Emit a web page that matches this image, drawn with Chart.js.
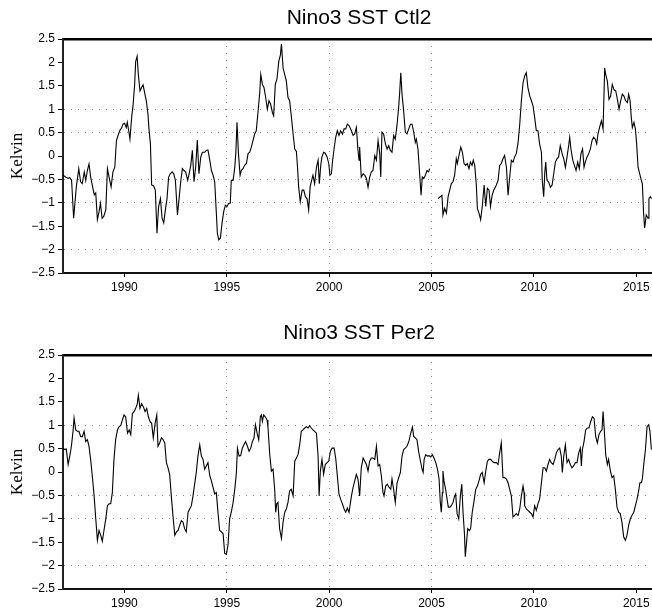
<!DOCTYPE html>
<html>
<head>
<meta charset="utf-8">
<title>Nino3 SST</title>
<script src="https://cdn.jsdelivr.net/npm/chart.js@4.4.1/dist/chart.umd.min.js"></script>
<style>
  html, body { margin: 0; padding: 0; background: #fff; overflow: hidden; }
  canvas { display: block; }
</style>
</head>
<body>
<canvas id="ctl2" width="660" height="306"></canvas>
<canvas id="per2" width="660" height="306"></canvas>
<script>
// Nino3 SST anomaly [year, K], monthly-ish samples, gap in early 2005 for Ctl2
const ctl2Series = [
  [1987.00,-0.41],[1987.13,-0.45],[1987.25,-0.48],[1987.33,-0.46],[1987.42,-0.52],[1987.52,-1.33],[1987.65,-0.66],[1987.77,-0.27],[1987.86,-0.55],[1987.94,-0.59],
  [1988.04,-0.34],[1988.11,-0.52],[1988.19,-0.31],[1988.27,-0.17],[1988.35,-0.45],[1988.43,-0.62],[1988.53,-0.83],[1988.60,-0.79],[1988.68,-1.36],[1988.76,-1.19],[1988.83,-1.01],[1988.91,-1.33],[1988.99,-1.29],
  [1989.09,-1.15],[1989.17,-0.27],[1989.25,-0.45],[1989.35,-0.66],[1989.44,-0.34],[1989.53,-0.24],[1989.61,0.33],[1989.69,0.44],[1989.77,0.54],[1989.87,0.61],[1989.93,0.68],
  [1990.01,0.70],[1990.09,0.61],[1990.14,0.72],[1990.21,0.54],[1990.27,0.36],[1990.36,0.86],[1990.42,1.07],[1990.50,1.53],[1990.55,2.02],[1990.62,2.13],[1990.68,1.74],[1990.76,1.39],[1990.83,1.46],[1990.91,1.52],[1990.99,1.35],
  [1991.07,1.18],[1991.15,0.89],[1991.20,0.58],[1991.27,0.26],[1991.33,-0.62],[1991.43,-0.64],[1991.51,-0.73],[1991.59,-1.65],[1991.67,-1.08],[1991.76,-0.91],[1991.84,-1.33],[1991.92,-1.43],
  [1992.00,-1.15],[1992.08,-0.91],[1992.16,-0.45],[1992.24,-0.38],[1992.33,-0.34],[1992.41,-0.38],[1992.49,-0.52],[1992.59,-1.26],[1992.67,-0.91],[1992.75,-0.55],[1992.83,-0.27],[1992.91,-0.31],[1992.99,-0.34],
  [1993.09,-0.52],[1993.16,-0.38],[1993.24,-0.20],[1993.32,0.12],[1993.40,-0.55],[1993.48,-0.24],[1993.56,0.34],[1993.64,-0.38],[1993.73,-0.02],[1993.81,0.08],[1993.92,0.08],
  [1994.00,0.12],[1994.08,0.13],[1994.17,-0.09],[1994.25,-0.31],[1994.33,-0.41],[1994.41,-0.55],[1994.49,-1.22],[1994.54,-1.65],[1994.61,-1.79],[1994.69,-1.75],[1994.77,-1.43],[1994.85,-1.19],[1994.93,-1.05],
  [1995.01,-1.08],[1995.09,-1.01],[1995.17,-1.01],[1995.22,-0.52],[1995.31,-0.52],[1995.39,-0.24],[1995.44,0.05],[1995.50,0.72],[1995.57,0.05],[1995.65,-0.41],[1995.71,-0.31],[1995.79,-0.27],[1995.87,-0.20],[1995.96,-0.16],
  [1996.04,0.05],[1996.12,0.08],[1996.20,0.19],[1996.28,0.33],[1996.36,0.47],[1996.44,0.54],[1996.53,0.96],[1996.61,1.35],[1996.66,1.74],[1996.74,1.53],[1996.82,1.46],[1996.90,1.25],[1996.98,1.00],
  [1997.06,1.18],[1997.14,1.11],[1997.23,0.93],[1997.29,0.86],[1997.37,1.53],[1997.45,1.64],[1997.54,2.02],[1997.62,2.16],[1997.67,2.39],[1997.75,1.88],[1997.83,1.74],[1997.91,1.60],[1997.99,1.25],
  [1998.07,1.18],[1998.15,0.86],[1998.24,0.47],[1998.32,0.15],[1998.40,0.10],[1998.45,-0.20],[1998.51,-0.66],[1998.59,-0.98],[1998.68,-0.73],[1998.76,-0.73],[1998.84,-0.87],[1998.92,-0.91],
  [1999.00,-1.15],[1999.07,-0.66],[1999.13,-0.55],[1999.21,-0.41],[1999.29,-0.59],[1999.38,-0.24],[1999.46,-0.09],[1999.52,-0.59],[1999.59,-0.20],[1999.65,-0.02],[1999.73,0.08],[1999.81,0.06],[1999.90,-0.02],[1999.98,-0.16],
  [2000.04,-0.41],[2000.11,-0.38],[2000.17,-0.09],[2000.24,0.15],[2000.32,0.40],[2000.40,0.54],[2000.48,0.44],[2000.56,0.54],[2000.65,0.47],[2000.73,0.58],[2000.81,0.58],[2000.89,0.68],[2000.97,0.65],
  [2001.09,0.54],[2001.17,0.44],[2001.25,0.47],[2001.33,0.61],[2001.41,0.12],[2001.46,-0.09],[2001.49,0.19],[2001.57,-0.45],[2001.66,-0.38],[2001.74,-0.41],[2001.82,-0.48],[2001.90,-0.67],[2001.98,-0.45],
  [2002.06,-0.34],[2002.14,-0.31],[2002.23,0.01],[2002.31,-0.09],[2002.39,0.33],[2002.47,0.05],[2002.52,-0.45],[2002.58,0.51],[2002.66,0.47],[2002.75,0.26],[2002.83,0.15],[2002.91,0.22],[2002.99,0.12],
  [2003.07,0.08],[2003.15,0.44],[2003.23,0.36],[2003.32,0.68],[2003.40,1.07],[2003.45,1.39],[2003.50,1.78],[2003.56,1.32],[2003.64,0.96],[2003.72,0.51],[2003.80,0.47],[2003.89,0.58],[2003.97,0.68],
  [2004.05,0.68],[2004.13,0.51],[2004.21,0.29],[2004.26,0.36],[2004.34,0.15],[2004.42,-0.38],[2004.49,-0.84],[2004.55,-0.45],[2004.62,-0.48],[2004.70,-0.41],[2004.78,-0.31],[2004.86,-0.34],[2004.91,-0.27],
  [2005.10,null],
  [2005.32,-0.91],[2005.43,-0.87],[2005.51,-0.84],[2005.56,-1.26],[2005.64,-1.12],[2005.73,-1.22],[2005.81,-0.87],[2005.89,-0.73],[2005.97,-0.59],
  [2006.05,-0.55],[2006.13,-0.41],[2006.21,-0.06],[2006.26,-0.16],[2006.34,0.01],[2006.43,0.19],[2006.51,0.08],[2006.59,-0.16],[2006.67,-0.20],[2006.75,-0.16],[2006.83,-0.27],[2006.90,-0.13],[2006.98,-0.20],
  [2007.04,-0.09],[2007.11,-0.20],[2007.19,-0.62],[2007.24,-1.12],[2007.32,-1.22],[2007.40,-1.36],[2007.48,-1.08],[2007.57,-0.62],[2007.65,-1.08],[2007.73,-0.69],[2007.81,-0.73],[2007.88,-1.08],[2007.96,-0.84],
  [2008.04,-0.73],[2008.17,-0.62],[2008.25,-0.52],[2008.33,-0.20],[2008.41,-0.16],[2008.49,-0.06],[2008.57,0.01],[2008.66,-0.24],[2008.74,-0.84],[2008.82,-0.45],[2008.90,-0.09],[2008.98,-0.13],
  [2009.06,-0.02],[2009.14,0.05],[2009.23,0.29],[2009.31,0.68],[2009.39,1.18],[2009.47,1.56],[2009.55,1.71],[2009.63,1.78],[2009.71,1.46],[2009.80,1.28],[2009.88,1.18],[2009.96,1.07],
  [2010.04,0.82],[2010.12,0.54],[2010.20,0.54],[2010.28,0.26],[2010.37,0.08],[2010.41,-0.52],[2010.48,-0.87],[2010.53,-0.38],[2010.58,-0.13],[2010.64,-0.52],[2010.72,-0.55],[2010.81,-0.67],[2010.89,-0.62],[2010.97,-0.38],
  [2011.05,-0.13],[2011.13,-0.06],[2011.21,-0.02],[2011.29,0.22],[2011.38,0.05],[2011.46,-0.06],[2011.54,-0.24],[2011.62,-0.02],[2011.70,0.22],[2011.75,0.40],[2011.81,0.15],[2011.90,-0.09],[2011.98,-0.20],
  [2012.06,-0.31],[2012.14,-0.13],[2012.22,-0.27],[2012.30,0.05],[2012.38,0.15],[2012.45,-0.24],[2012.51,-0.13],[2012.60,-0.02],[2012.68,0.05],[2012.76,0.15],[2012.84,0.33],[2012.92,0.40],
  [2013.00,0.36],[2013.07,0.26],[2013.13,0.47],[2013.21,0.61],[2013.30,0.75],[2013.38,0.58],[2013.46,1.88],[2013.51,1.74],[2013.59,1.60],[2013.67,1.21],[2013.75,1.28],[2013.83,1.53],[2013.91,1.42],
  [2014.00,1.39],[2014.08,1.21],[2014.16,1.00],[2014.24,1.18],[2014.32,1.32],[2014.40,1.28],[2014.48,1.18],[2014.57,1.14],[2014.63,1.32],[2014.70,1.18],[2014.76,0.82],[2014.81,0.61],[2014.89,0.72],[2014.96,0.58],
  [2015.02,0.26],[2015.09,-0.24],[2015.17,-0.38],[2015.25,-0.52],[2015.30,-0.59],[2015.36,-1.22],[2015.41,-1.54],[2015.49,-1.26],[2015.58,-1.33],[2015.62,-0.91],[2015.69,-0.87],[2015.75,-0.91]
];

const per2Series = [
  [1987.00,0.51],[1987.08,0.48],[1987.16,0.49],[1987.25,0.16],[1987.33,0.34],[1987.41,0.55],[1987.49,0.87],[1987.54,1.15],[1987.62,0.90],[1987.70,0.87],[1987.78,0.87],[1987.86,0.76],[1987.94,0.75],
  [1988.03,0.87],[1988.11,0.65],[1988.19,0.69],[1988.27,0.55],[1988.35,0.27],[1988.43,-0.08],[1988.52,-0.51],[1988.60,-1.00],[1988.68,-1.46],[1988.76,-1.25],[1988.84,-1.35],[1988.92,-1.48],
  [1989.00,-1.25],[1989.09,-1.00],[1989.17,-0.72],[1989.25,-0.68],[1989.33,-0.68],[1989.41,-0.44],[1989.49,0.27],[1989.57,0.69],[1989.66,0.90],[1989.74,0.97],[1989.82,0.99],[1989.90,1.11],[1989.98,1.22],
  [1990.06,1.18],[1990.15,0.83],[1990.23,0.90],[1990.31,0.80],[1990.39,1.25],[1990.47,1.29],[1990.55,1.36],[1990.63,1.46],[1990.68,1.64],[1990.76,1.36],[1990.84,1.46],[1990.93,1.39],
  [1991.01,1.29],[1991.09,1.36],[1991.17,1.18],[1991.25,1.08],[1991.33,1.04],[1991.41,0.73],[1991.50,1.04],[1991.58,1.22],[1991.64,0.55],[1991.72,0.62],[1991.81,0.73],[1991.89,0.69],[1991.97,0.62],
  [1992.05,0.20],[1992.13,0.09],[1992.21,-0.05],[1992.29,-0.51],[1992.37,-0.93],[1992.46,-1.35],[1992.54,-1.28],[1992.62,-1.25],[1992.70,-1.14],[1992.78,-1.04],[1992.86,-1.07],[1992.94,-1.21],
  [1993.02,-1.28],[1993.11,-0.86],[1993.19,-0.79],[1993.27,-0.72],[1993.35,-0.51],[1993.43,-0.26],[1993.51,-0.01],[1993.59,0.34],[1993.68,0.58],[1993.76,0.34],[1993.84,0.27],[1993.92,0.06],
  [1994.00,0.13],[1994.08,0.20],[1994.17,-0.08],[1994.25,-0.19],[1994.33,-0.33],[1994.41,-0.47],[1994.49,-0.44],[1994.57,-0.86],[1994.65,-1.25],[1994.74,-1.28],[1994.82,-1.32],[1994.90,-1.74],[1994.98,-1.76],
  [1995.06,-1.56],[1995.14,-1.00],[1995.22,-0.86],[1995.31,-0.65],[1995.39,-0.37],[1995.47,-0.01],[1995.52,0.51],[1995.60,0.34],[1995.68,0.35],[1995.76,0.51],[1995.84,0.58],[1995.92,0.65],
  [1996.01,0.55],[1996.09,0.44],[1996.17,0.51],[1996.25,0.65],[1996.33,0.73],[1996.40,1.01],[1996.48,0.83],[1996.56,0.69],[1996.64,1.18],[1996.69,1.22],[1996.74,1.08],[1996.80,1.22],[1996.88,1.18],[1996.97,1.11],
  [1997.01,0.97],[1997.10,0.37],[1997.18,0.02],[1997.26,0.06],[1997.34,-0.37],[1997.39,-0.86],[1997.44,-0.68],[1997.50,-0.65],[1997.58,-1.21],[1997.67,-1.42],[1997.75,-1.07],[1997.83,-0.86],[1997.91,-0.79],[1997.99,-0.65],
  [1998.07,-0.40],[1998.15,-0.37],[1998.24,-0.51],[1998.32,0.23],[1998.40,0.30],[1998.48,0.37],[1998.56,0.58],[1998.64,0.87],[1998.72,0.90],[1998.81,0.94],[1998.89,0.97],[1998.97,0.94],
  [1999.05,0.99],[1999.13,0.94],[1999.21,0.90],[1999.29,0.87],[1999.38,0.83],[1999.46,0.34],[1999.51,-0.51],[1999.57,0.02],[1999.65,0.27],[1999.73,-0.05],[1999.81,0.16],[1999.90,0.20],[1999.98,0.23],
  [2000.06,0.44],[2000.14,0.51],[2000.24,0.51],[2000.32,0.30],[2000.40,-0.08],[2000.48,-0.47],[2000.56,-0.58],[2000.65,-0.68],[2000.73,-0.79],[2000.81,-0.86],[2000.89,-0.77],[2000.97,-0.86],
  [2001.09,-0.51],[2001.17,-0.33],[2001.25,-0.19],[2001.33,-0.05],[2001.41,-0.15],[2001.49,-0.51],[2001.57,0.09],[2001.66,0.30],[2001.74,0.23],[2001.82,0.16],[2001.90,0.02],[2001.98,0.23],
  [2002.06,0.30],[2002.14,0.30],[2002.23,0.27],[2002.31,0.55],[2002.39,0.13],[2002.47,0.16],[2002.55,-0.08],[2002.63,-0.44],[2002.68,-0.51],[2002.76,-0.30],[2002.84,-0.26],[2002.93,-0.33],
  [2003.01,-0.37],[2003.07,-0.15],[2003.15,-0.37],[2003.23,-0.65],[2003.32,-0.23],[2003.40,-0.12],[2003.48,-0.01],[2003.56,0.34],[2003.64,0.48],[2003.72,0.51],[2003.80,0.55],[2003.89,0.65],[2003.97,0.80],
  [2004.03,0.90],[2004.07,0.96],[2004.13,0.76],[2004.21,0.73],[2004.29,0.69],[2004.37,0.44],[2004.46,0.23],[2004.54,0.06],[2004.59,-0.01],[2004.64,0.27],[2004.72,0.37],[2004.80,0.34],[2004.88,0.35],[2004.96,0.32],
  [2005.04,0.37],[2005.12,0.30],[2005.21,0.20],[2005.29,0.06],[2005.37,-0.15],[2005.43,-0.65],[2005.48,-0.86],[2005.53,-0.44],[2005.56,0.02],[2005.61,-0.19],[2005.69,-0.37],[2005.76,-0.58],[2005.82,-0.75],[2005.90,-0.75],[2005.97,-0.72],
  [2006.05,-0.65],[2006.13,-0.51],[2006.18,-0.47],[2006.25,-0.89],[2006.33,-1.00],[2006.41,-0.51],[2006.48,-0.26],[2006.54,-0.86],[2006.61,-1.32],[2006.65,-1.81],[2006.70,-1.56],[2006.77,-1.21],[2006.85,-1.25],[2006.91,-1.21],[2006.99,-0.86],
  [2007.08,-0.61],[2007.16,-0.37],[2007.24,-0.30],[2007.32,-0.19],[2007.40,-0.05],[2007.48,-0.01],[2007.57,-0.23],[2007.65,0.02],[2007.73,0.23],[2007.81,0.27],[2007.89,0.27],[2007.97,0.23],
  [2008.05,0.20],[2008.17,0.20],[2008.25,0.16],[2008.33,0.41],[2008.41,0.62],[2008.49,-0.12],[2008.57,-0.12],[2008.66,-0.15],[2008.74,-0.23],[2008.82,-0.37],[2008.90,-0.51],[2008.98,-0.96],
  [2009.06,-0.93],[2009.14,-0.89],[2009.23,-0.93],[2009.31,-0.79],[2009.39,-0.51],[2009.47,-0.30],[2009.52,-0.44],[2009.55,-0.72],[2009.63,-0.79],[2009.71,-0.82],[2009.80,-0.86],[2009.88,-0.89],[2009.96,-0.96],
  [2010.04,-0.72],[2010.12,-0.82],[2010.20,-0.68],[2010.28,-0.58],[2010.37,-0.23],[2010.45,0.09],[2010.53,0.09],[2010.61,0.02],[2010.69,0.16],[2010.77,0.27],[2010.85,0.20],[2010.94,0.16],
  [2011.02,0.27],[2011.10,0.41],[2011.18,0.48],[2011.26,0.51],[2011.34,0.34],[2011.39,-0.01],[2011.46,0.34],[2011.54,0.58],[2011.62,0.20],[2011.70,0.27],[2011.78,0.16],[2011.86,0.09],[2011.94,0.13],
  [2012.03,0.20],[2012.11,0.20],[2012.19,0.41],[2012.27,0.51],[2012.32,0.13],[2012.37,0.48],[2012.45,0.65],[2012.53,0.90],[2012.61,0.94],[2012.69,0.94],[2012.78,1.08],[2012.86,1.18],[2012.94,1.15],
  [2013.02,0.76],[2013.10,0.62],[2013.18,0.80],[2013.26,0.87],[2013.33,0.90],[2013.38,1.29],[2013.43,0.97],[2013.51,0.37],[2013.59,0.16],[2013.65,0.27],[2013.74,0.02],[2013.82,-0.12],[2013.90,-0.08],[2013.98,-0.37],
  [2014.06,-0.75],[2014.14,-0.86],[2014.22,-0.89],[2014.30,-1.07],[2014.39,-1.39],[2014.47,-1.46],[2014.55,-1.35],[2014.63,-1.14],[2014.71,-1.00],[2014.79,-0.93],[2014.88,-0.86],[2014.96,-0.72],
  [2015.04,-0.58],[2015.12,-0.40],[2015.18,-0.23],[2015.25,-0.23],[2015.30,-0.15],[2015.36,0.13],[2015.45,0.48],[2015.53,0.97],[2015.61,1.01],[2015.67,0.87],[2015.74,0.48]
];

const yearTicks = [1990, 1995, 2000, 2005, 2010, 2015];
const kelvinTicks = [-2.5, -2, -1.5, -1, -0.5, 0, 0.5, 1, 1.5, 2, 2.5];
const yearGrid = [1995, 2000, 2005];
const ctl2KelvinGrid = [1, 0.5, -0.5, -1, -2];
const per2KelvinGrid = [1, -0.5, -1, -2];

const yearMin = 1987;
const yearMax = 2015.917;

const tickFont = { family: 'Liberation Sans', size: 12 };
const dotColor = '#8a8a8a';

function fmtKelvin(v) {
  if (v < 0) return '\u2212' + Math.abs(v);
  return String(v);
}

function makePanel(canvasId, titleText, series, kelvinGrid, top) {
  const ctx = document.getElementById(canvasId).getContext('2d');
  return new Chart(ctx, {
    type: 'line',
    data: {
      datasets: [{
        data: series.map(p => ({ x: p[0], y: p[1] })),
        borderColor: '#000',
        borderWidth: 1.1,
        pointRadius: 0,
        tension: 0,
        spanGaps: false
      }]
    },
    options: {
      responsive: false,
      animation: false,
      layout: { padding: { left: 0, right: 5, top: 0, bottom: 0 } },
      plugins: {
        legend: { display: false },
        tooltip: { enabled: false },
        title: {
          display: true,
          fullSize: false,
          text: titleText,
          color: '#000',
          font: { family: 'Liberation Sans', size: 21, weight: 'normal', lineHeight: 1.2 },
          padding: { top: top.titlePadTop, bottom: top.titlePadBottom }
        }
      },
      scales: {
        x: {
          type: 'linear',
          position: 'bottom',
          min: yearMin,
          max: yearMax,
          afterBuildTicks: s => { s.ticks = yearTicks.map(v => ({ value: v })); },
          afterFit: s => { s.height = top.xAxisHeight; },
          ticks: {
            autoSkip: false,
            maxRotation: 0,
            padding: 3,
            color: '#000',
            font: tickFont,
            callback: v => String(v)
          },
          grid: {
            color: c => (c.tick && yearGrid.includes(c.tick.value)) ? dotColor : 'rgba(0,0,0,0)',
            lineWidth: 1,
            tickColor: '#000',
            tickLength: 4,
            tickWidth: 1
          },
          border: { display: true, color: '#111', width: 2, dash: [1, 6] }
        },
        xTop: {
          type: 'linear',
          position: 'top',
          min: yearMin,
          max: yearMax,
          afterFit: s => { s.height = 0; },
          ticks: { display: false },
          grid: { display: false, drawTicks: false },
          border: { display: true, color: '#000', width: 2.5 }
        },
        y: {
          type: 'linear',
          min: -2.5,
          max: 2.5,
          afterBuildTicks: s => { s.ticks = kelvinTicks.map(v => ({ value: v })); },
          afterFit: s => { s.width = 63; },
          ticks: {
            padding: 3,
            color: '#000',
            font: tickFont,
            callback: v => fmtKelvin(v)
          },
          grid: {
            color: c => (c.tick && kelvinGrid.includes(c.tick.value)) ? dotColor : 'rgba(0,0,0,0)',
            lineWidth: 1,
            tickColor: '#000',
            tickLength: 5,
            tickWidth: 1
          },
          border: { display: true, color: '#222', width: 2, dash: [1, 6] },
          title: {
            display: true,
            text: 'Kelvin',
            color: '#000',
            font: { family: 'Liberation Serif', size: 17, lineHeight: 1.2 },
            padding: { top: 7, bottom: 0 }
          }
        }
      }
    }
  });
}

makePanel('ctl2', 'Nino3 SST Ctl2', ctl2Series, ctl2KelvinGrid,
  { titlePadTop: 5.4, titlePadBottom: 8.4, xAxisHeight: 33 });
makePanel('per2', 'Nino3 SST Per2', per2Series, per2KelvinGrid,
  { titlePadTop: 14.4, titlePadBottom: 9.4, xAxisHeight: 23 });
</script>
</body>
</html>
